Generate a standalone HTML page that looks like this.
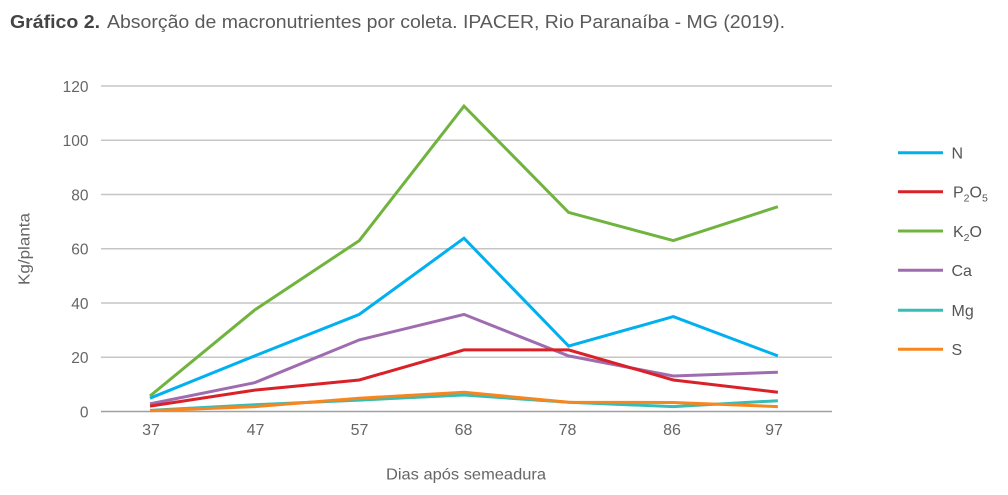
<!DOCTYPE html>
<html><head><meta charset="utf-8"><style>
html,body{margin:0;padding:0;background:#fff;}
svg{display:block;font-family:"Liberation Sans",sans-serif;}
</style></head><body>
<svg width="1008" height="495" viewBox="0 0 1008 495" xmlns="http://www.w3.org/2000/svg">
<text x="10" y="28" font-size="18" font-weight="bold" fill="#444" textLength="90" lengthAdjust="spacingAndGlyphs">Gráfico 2.</text>
<text x="107" y="28" font-size="18" fill="#5a5a5a" textLength="678" lengthAdjust="spacingAndGlyphs">Absorção de macronutrientes por coleta. IPACER, Rio Paranaíba - MG (2019).</text>
<g stroke="#c6c6c6" stroke-width="1.5">
<line x1="101" y1="86" x2="832" y2="86"/>
<line x1="101" y1="140.25" x2="832" y2="140.25"/>
<line x1="101" y1="194.5" x2="832" y2="194.5"/>
<line x1="101" y1="248.75" x2="832" y2="248.75"/>
<line x1="101" y1="303" x2="832" y2="303"/>
<line x1="101" y1="357.25" x2="832" y2="357.25"/>
</g>
<line x1="101" y1="411.5" x2="832" y2="411.5" stroke="#a0a0a0" stroke-width="1.5"/>
<g font-size="15.5" fill="#666" text-anchor="end">
<text x="88.5" y="91.8">120</text>
<text x="88.5" y="146">100</text>
<text x="88.5" y="200.3">80</text>
<text x="88.5" y="254.5">60</text>
<text x="88.5" y="308.8">40</text>
<text x="88.5" y="363">20</text>
<text x="88.5" y="417.3">0</text>
</g>
<g font-size="16" fill="#666" text-anchor="middle">
<text x="151" y="435">37</text>
<text x="255.5" y="435">47</text>
<text x="359.5" y="435">57</text>
<text x="463.5" y="435">68</text>
<text x="567.5" y="435">78</text>
<text x="672" y="435">86</text>
<text x="774" y="435">97</text>
<text x="466" y="479.5" textLength="160" lengthAdjust="spacingAndGlyphs">Dias após semeadura</text>
<text transform="translate(29.5,249) rotate(-90)" textLength="72" lengthAdjust="spacingAndGlyphs">Kg/planta</text>
</g>
<g fill="none" stroke-width="3" stroke-linejoin="miter">
<polyline stroke="#00b0f0" points="150,398.2 254.7,355.9 359.3,314.4 464,238.2 568.6,346.1 673.3,316.6 777.9,355.9"/>
<polyline stroke="#70b43f" points="150,396 254.7,310 359.3,240.6 464,106.1 568.6,212.4 673.3,240.6 777.9,206.7"/>
<polyline stroke="#9f6cb0" points="150,403.9 254.7,382.7 359.3,339.9 464,314.4 568.6,355.9 673.3,376 777.9,372.2"/>
<polyline stroke="#da2128" points="150,406.1 254.7,390.1 359.3,380 464,349.9 568.6,349.9 673.3,380 777.9,392.2"/>
<polyline stroke="#36bdb5" points="150,410.4 254.7,404.7 359.3,400.1 464,395 568.6,402.3 673.3,406.6 777.9,400.7"/>
<polyline stroke="#f7861f" points="150,410.7 254.7,406.6 359.3,398.2 464,392.2 568.6,402.3 673.3,402.5 777.9,406.6"/>
</g>
<g stroke-width="3">
<line x1="898" y1="152.7" x2="943" y2="152.7" stroke="#00b0f0"/>
<line x1="898" y1="191.7" x2="943" y2="191.7" stroke="#da2128"/>
<line x1="898" y1="231" x2="943" y2="231" stroke="#70b43f"/>
<line x1="898" y1="270.3" x2="943" y2="270.3" stroke="#9f6cb0"/>
<line x1="898" y1="310.3" x2="943" y2="310.3" stroke="#36bdb5"/>
<line x1="898" y1="349.3" x2="943" y2="349.3" stroke="#f7861f"/>
</g>
<g font-size="16" fill="#555">
<text x="951.5" y="158.5">N</text>
<text x="953" y="197.5">P<tspan font-size="10.5" dy="4">2</tspan><tspan dy="-4">O</tspan><tspan font-size="10.5" dy="4">5</tspan></text>
<text x="953" y="236.8">K<tspan font-size="10.5" dy="4">2</tspan><tspan dy="-4">O</tspan></text>
<text x="951.5" y="276">Ca</text>
<text x="951.5" y="316">Mg</text>
<text x="951.5" y="355">S</text>
</g>
</svg>
</body></html>
